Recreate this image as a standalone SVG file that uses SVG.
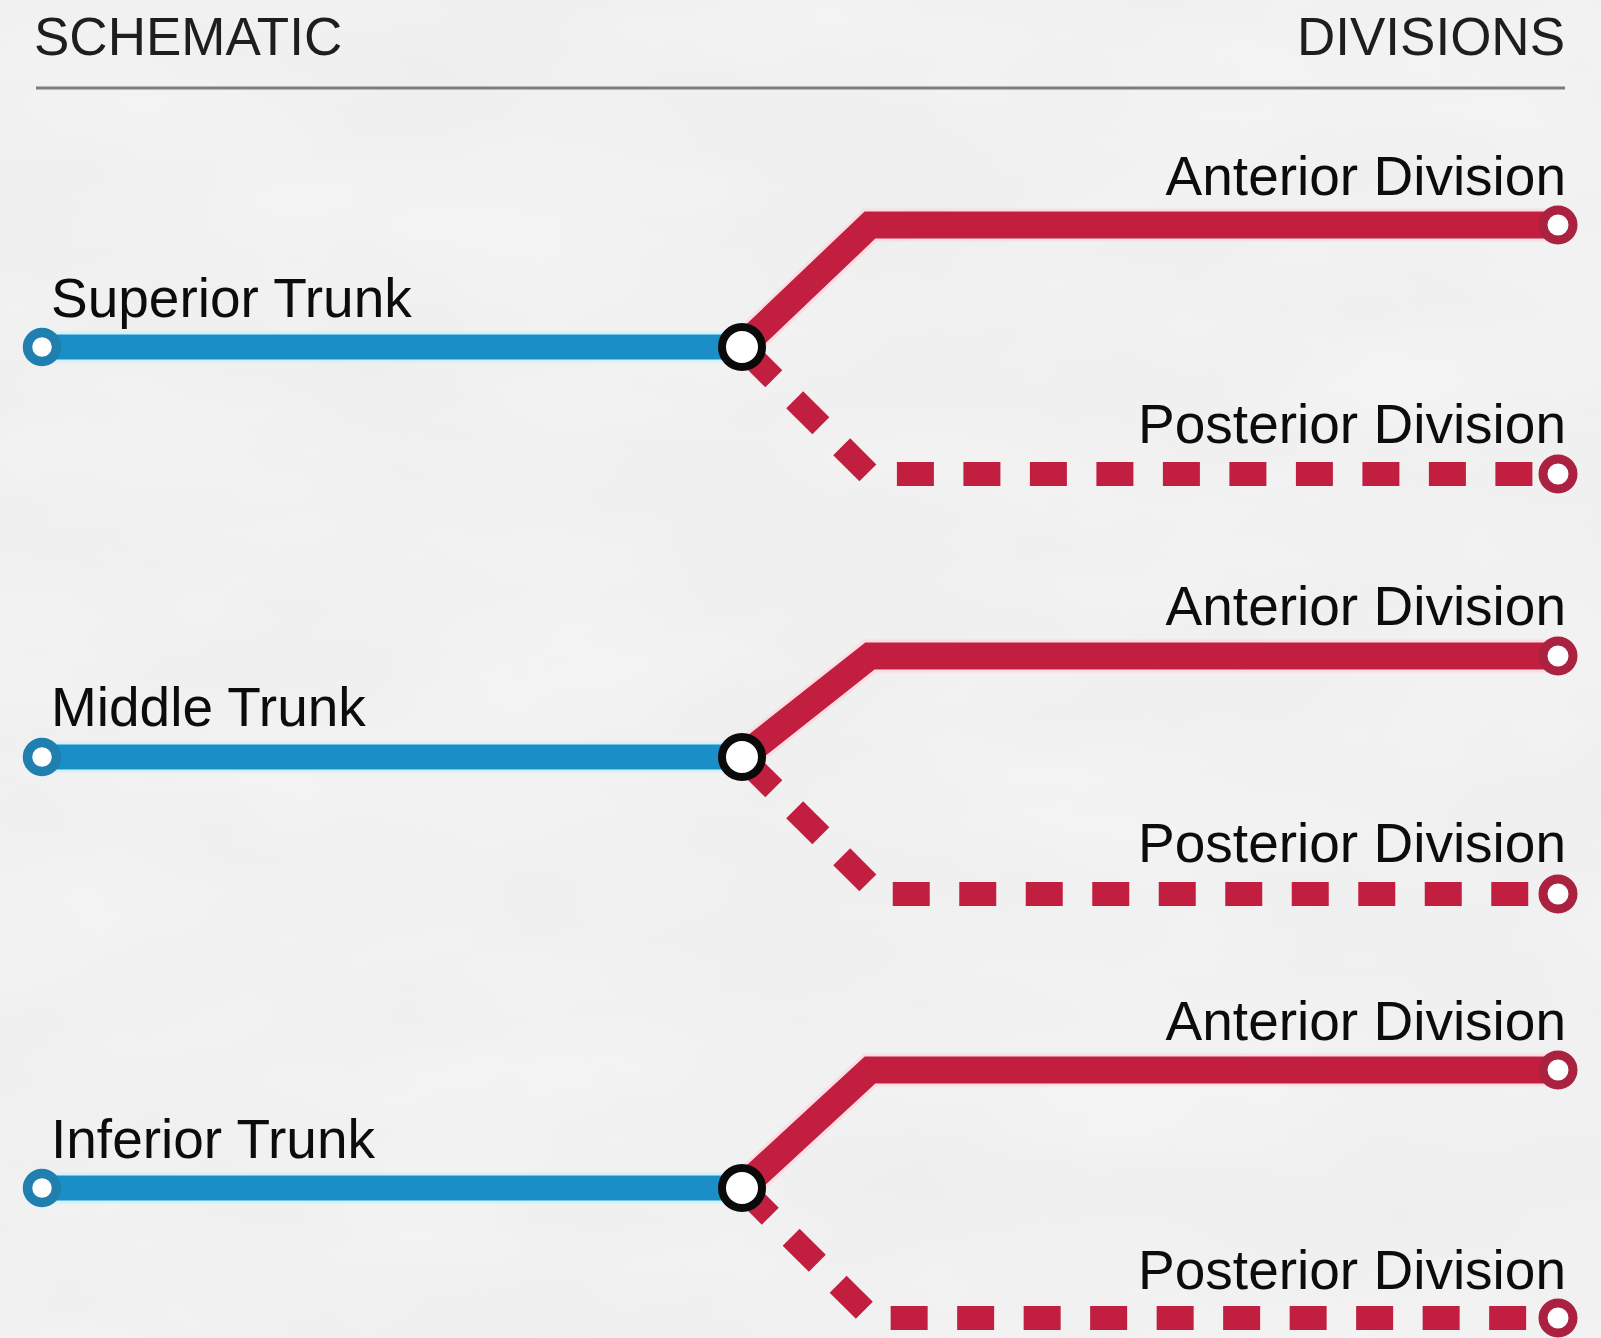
<svg xmlns="http://www.w3.org/2000/svg" width="1601" height="1338" viewBox="0 0 1601 1338">
  <defs>
    <filter id="marble" x="0" y="0" width="100%" height="100%">
      <feTurbulence type="fractalNoise" baseFrequency="0.003 0.007" numOctaves="4" seed="11" result="n"/>
      <feColorMatrix in="n" type="matrix" values="0.34 0.33 0.33 0 0  0.34 0.33 0.33 0 0  0.34 0.33 0.33 0 0  0 0 0 0 0.07"/>
    </filter>
    <style>
      .hdr { font-family: "Liberation Sans", Arial, sans-serif; font-size: 53px; fill: #1e1e1e; }
      .lbl { font-family: "Liberation Sans", Arial, sans-serif; font-size: 55px; fill: #0c0c0c; }
      .end { text-anchor: end; }
      .rule { stroke: #7d7d7d; stroke-width: 3; }
      .trunk-glow { fill: none; stroke: #c4f1ff; stroke-width: 31; opacity: 0.7; }
      .trunk { fill: none; stroke: #1a8fc7; stroke-width: 25; }
      .ant-glow { fill: none; stroke: #ffd6de; stroke-width: 33; stroke-linejoin: miter; opacity: 0.7; }
      .ant { fill: none; stroke: #c21f40; stroke-width: 27; stroke-linejoin: miter; }
      .post { fill: none; stroke: #c21f40; stroke-width: 24; stroke-dasharray: 37 29.5; stroke-dashoffset: 58.5; stroke-linejoin: miter; }
      .start { fill: #ffffff; stroke: #1f7fae; stroke-width: 9.5; }
      .hub { fill: #ffffff; stroke: #0a0a0a; stroke-width: 8; }
      .stop { fill: #ffffff; stroke: #ab2140; stroke-width: 9; }
    </style>
  </defs>

  <!-- marble background -->
  <rect width="1601" height="1338" fill="#f5f5f5"/>
  <rect width="1601" height="1338" filter="url(#marble)"/>

  <!-- header -->
  <g id="header">
    <text class="hdr" x="34" y="55">SCHEMATIC</text>
    <text class="hdr end" x="1565" y="55">DIVISIONS</text>
    <line class="rule" x1="36" y1="88" x2="1565" y2="88"/>
  </g>

  <!-- connectors: trunks (blue) and divisions (red) -->
  <g id="connectors">
    <path class="trunk-glow" d="M42,347 H742"/>
    <path class="trunk-glow" d="M42,757 H742"/>
    <path class="trunk-glow" d="M42,1188 H742"/>
    <path class="trunk" d="M42,347 H742"/>
    <path class="trunk" d="M42,757 H742"/>
    <path class="trunk" d="M42,1188 H742"/>

    <path class="ant-glow" d="M742,347 L870,225 H1558"/>
    <path class="ant-glow" d="M742,757 L870,656 H1558"/>
    <path class="ant-glow" d="M742,1188 L870,1070 H1558"/>
    <path class="ant" d="M742,347 L870,225 H1558"/>
    <path class="ant" d="M742,757 L870,656 H1558"/>
    <path class="ant" d="M742,1188 L870,1070 H1558"/>

    <path class="post" d="M742,347 L869,474 H1558"/>
    <path class="post" d="M742,757 L879,894 H1558"/>
    <path class="post" style="stroke-dashoffset:63.5" d="M742,1188 L872,1318 H1558"/>
  </g>

  <!-- superior trunk -->
  <g id="superior-trunk">
    <circle class="start" cx="42" cy="347" r="14.5"/>
    <text class="lbl" x="51" y="317">Superior Trunk</text>
  </g>
  <g id="superior-junction">
    <circle class="hub" cx="742" cy="347" r="20"/>
  </g>
  <g id="superior-anterior">
    <circle class="stop" cx="1558" cy="225" r="15"/>
    <text class="lbl end" x="1566" y="195">Anterior Division</text>
  </g>
  <g id="superior-posterior">
    <circle class="stop" cx="1558" cy="474" r="15"/>
    <text class="lbl end" x="1566" y="443">Posterior Division</text>
  </g>

  <!-- middle trunk -->
  <g id="middle-trunk">
    <circle class="start" cx="42" cy="757" r="14.5"/>
    <text class="lbl" x="51" y="726">Middle Trunk</text>
  </g>
  <g id="middle-junction">
    <circle class="hub" cx="742" cy="757" r="20"/>
  </g>
  <g id="middle-anterior">
    <circle class="stop" cx="1558" cy="656" r="15"/>
    <text class="lbl end" x="1566" y="625">Anterior Division</text>
  </g>
  <g id="middle-posterior">
    <circle class="stop" cx="1558" cy="894" r="15"/>
    <text class="lbl end" x="1566" y="862">Posterior Division</text>
  </g>

  <!-- inferior trunk -->
  <g id="inferior-trunk">
    <circle class="start" cx="42" cy="1188" r="14.5"/>
    <text class="lbl" x="51" y="1158">Inferior Trunk</text>
  </g>
  <g id="inferior-junction">
    <circle class="hub" cx="742" cy="1188" r="20"/>
  </g>
  <g id="inferior-anterior">
    <circle class="stop" cx="1558" cy="1070" r="15"/>
    <text class="lbl end" x="1566" y="1040">Anterior Division</text>
  </g>
  <g id="inferior-posterior">
    <circle class="stop" cx="1558" cy="1318" r="15"/>
    <text class="lbl end" x="1566" y="1289">Posterior Division</text>
  </g>
</svg>
